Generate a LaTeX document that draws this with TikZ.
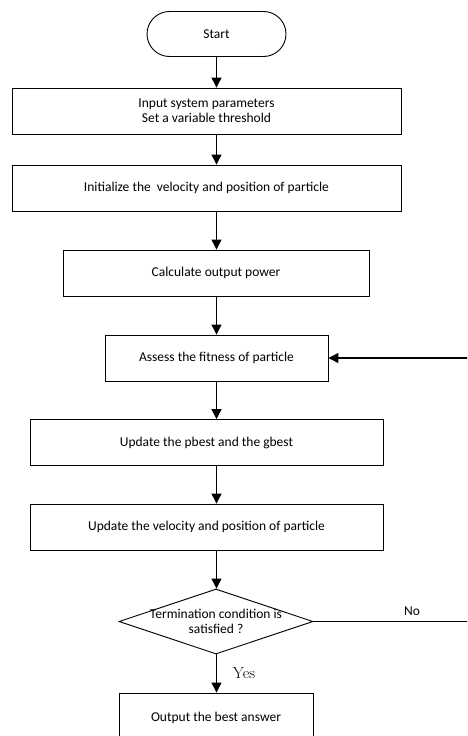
\documentclass[tikz,border=0pt]{standalone}
\usepackage{fontspec}
\setmainfont{Carlito}
\newfontfamily\yesfont{Latin Modern Roman}
\usetikzlibrary{arrows.meta,shapes.geometric}
\begin{document}
\begin{tikzpicture}[x=1pt,y=-1pt,
  every node/.style={font=\fontsize{13.5}{15}\selectfont,align=center},
  procbox/.style={draw,line width=0.9pt,minimum height=46pt,inner sep=0pt},
  term/.style={draw,line width=0.9pt,minimum width=139pt,minimum height=45pt,rounded corners=22.5pt},
  decision/.style={draw,line width=0.9pt,diamond,minimum width=194pt,minimum height=65pt,inner sep=0pt},
  flow/.style={line width=1.2pt,-{Triangle[width=10pt,length=10pt]}},
  plain/.style={line width=1.2pt}]
\useasboundingbox (0,0) rectangle (467,736);
\clip (0,0) rectangle (467,736);
\fill[white] (0,0) rectangle (467,736);
\node[term] (start) at (216.5,34) {Start};
\node[procbox,minimum width=389pt] (input) at (206.5,111) {Input system parameters\\Set a variable threshold};
\node[procbox,minimum width=389pt] (init) at (206.5,188) {Initialize the \ velocity and position of particle};
\node[procbox,minimum width=306pt] (calc) at (216,273) {Calculate output power};
\node[procbox,minimum width=223pt] (assess) at (216.5,358) {Assess the fitness of particle};
\node[procbox,minimum width=353pt] (pbest) at (206.5,442.5) {Update the pbest and the gbest};
\node[procbox,minimum width=353pt] (upd) at (206.5,527) {Update the velocity and position of particle};
\node[decision] (cond) at (216,621.5) {};
\node (condtxt) at (216,621.5) {Termination condition is\\satisfied ?};
\node[procbox,minimum width=194pt,minimum height=50pt] (out) at (216,718) {Output the best answer};
\node (no) at (412,611) {No};
\node[font=\yesfont\fontsize{16}{18}\selectfont] (yes) at (244,673) {Yes};
\coordinate (c1) at (472,621.5);
\coordinate (c2) at (472,358);
\draw[flow] (start.south) -- (start.south |- input.north);
\draw[flow] (start.south |- input.south) -- (start.south |- init.north);
\draw[flow] (start.south |- init.south) -- (start.south |- calc.north);
\draw[flow] (start.south |- calc.south) -- (start.south |- assess.north);
\draw[flow] (start.south |- assess.south) -- (start.south |- pbest.north);
\draw[flow] (start.south |- pbest.south) -- (start.south |- upd.north);
\draw[flow] (start.south |- upd.south) -- (start.south |- cond.north);
\draw[flow] (start.south |- cond.south) -- (start.south |- out.north);
\draw[plain] (cond.east) -- (c1) -- (c2);
\draw[flow] (c2) -- (assess.east);
\end{tikzpicture}
\end{document}
